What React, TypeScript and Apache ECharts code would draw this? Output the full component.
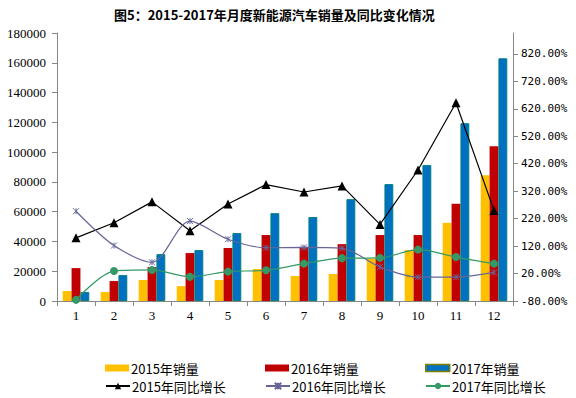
import React, { useEffect, useRef } from "react";
import * as echarts from "echarts";

const months = ["1", "2", "3", "4", "5", "6", "7", "8", "9", "10", "11", "12"];
const sales2015 = [6700, 6000, 14100, 10000, 14100, 21500, 16800, 18100, 28400, 34200, 52500, 84500];
const sales2016 = [22100, 13400, 22800, 32200, 35600, 44300, 36400, 38200, 44300, 44300, 65300, 104000];
const sales2017 = [6000, 17400, 31500, 34200, 45600, 59000, 56400, 68400, 78500, 91300, 119400, 163000];
const growth2015 = [150, 205, 281, 176, 273, 344, 317, 339, 199, 397, 642, 250];
const growth2016 = [247, 122, 61, 211, 145, 114, 115, 112, 44, 7, 7, 24];
const growth2017 = [-76, 29, 33, 8, 27, 32, 56, 76, 77, 107, 80, 56];

const names = ["2015年销量", "2016年销量", "2017年销量", "2015年同比增长", "2016年同比增长", "2017年同比增长"];

const CJK = '"Noto Sans CJK SC", "Noto Sans", sans-serif';

export default function App() {
  const ref = useRef<HTMLDivElement>(null);
  useEffect(() => {
    if (!ref.current) return;
    const chart = echarts.init(ref.current, undefined, { renderer: "svg" });
    const legendPos = [
      { left: 105, top: 361 },
      { left: 265, top: 361 },
      { left: 425, top: 361 },
      { left: 105, top: 379 },
      { left: 265, top: 379 },
      { left: 425, top: 379 },
    ];
    const legends = names.map((n, i) => {
      const item: any = { name: n };
      if (i < 3) item.icon = "rect";
      if (i === 2) item.itemStyle = { borderColor: "#808000", borderWidth: 1.5 };
      return {
        data: [item],
        left: legendPos[i].left,
        top: legendPos[i].top,
        itemWidth: 24,
        itemHeight: i < 3 ? 7 : 8,
        padding: 0,
        textStyle: { fontFamily: CJK, fontSize: 13, lineHeight: 14, color: "#000", padding: [0, 0, 0, -3] },
      };
    });
    const axisLine = { show: true, lineStyle: { color: "#868686", width: 1 } };
    chart.setOption({
      animation: false,
      title: {
        text: "图5：2015-2017年月度新能源汽车销量及同比变化情况",
        left: 109,
        top: 3,
        textStyle: { fontFamily: CJK, fontSize: 13, fontWeight: "bold", color: "#000" },
      },
      legend: legends,
      grid: { left: 57, right: 63, top: 33, bottom: 97, containLabel: false },
      xAxis: {
        type: "category",
        data: months,
        axisLine,
        axisTick: { show: true, length: 5, lineStyle: { color: "#868686" } },
        axisLabel: { fontFamily: '"Liberation Serif", serif', fontSize: 13, color: "#000", margin: 8 },
      },
      yAxis: [
        {
          type: "value",
          min: 0,
          max: 180000,
          interval: 20000,
          splitLine: { show: false },
          axisLine,
          axisTick: { show: true, length: 5, lineStyle: { color: "#868686" } },
          axisLabel: {
            fontFamily: '"Liberation Serif", serif',
            fontSize: 13,
            color: "#000",
            margin: 11,
            formatter: (v: number) => String(v),
          },
        },
        {
          type: "value",
          position: "right",
          min: -80,
          max: 896,
          interval: 100,
          splitLine: { show: false },
          axisLine,
          axisTick: { show: true, length: 5, lineStyle: { color: "#868686" } },
          axisLabel: {
            fontFamily: '"DejaVu Sans Mono", monospace',
            fontSize: 11,
            color: "#000",
            margin: 8,
            showMaxLabel: false,
            formatter: (v: number) => (v > 890 ? "" : v.toFixed(2) + "%"),
          },
        },
      ],
      series: [
        {
          name: names[0],
          type: "bar",
          data: sales2015,
          barGap: "0%",
          barCategoryGap: "30%",
          itemStyle: { color: "#FFC000" },
        },
        {
          name: names[1],
          type: "bar",
          data: sales2016,
          barGap: "0%",
          barCategoryGap: "30%",
          itemStyle: { color: "#C00000" },
        },
        {
          name: names[2],
          type: "bar",
          data: sales2017,
          barGap: "0%",
          barCategoryGap: "30%",
          itemStyle: { color: "#0070C0", borderColor: "#008080", borderWidth: 1 },
        },
        {
          name: names[3],
          type: "line",
          yAxisIndex: 1,
          data: growth2015,
          symbol: "triangle",
          symbolSize: 9,
          lineStyle: { color: "#000", width: 1.2 },
          itemStyle: { color: "#000" },
        },
        {
          name: names[4],
          type: "line",
          yAxisIndex: 1,
          data: growth2016,
          smooth: 0.3,
          symbol: "path://M0,0L10,10M10,0L0,10M5,0L5,10",
          symbolSize: 6,
          lineStyle: { color: "#666699", width: 1.2 },
          itemStyle: { color: "#666699", borderColor: "#666699", borderWidth: 1 },
        },
        {
          name: names[5],
          type: "line",
          yAxisIndex: 1,
          data: growth2017,
          smooth: 0.3,
          symbol: "circle",
          symbolSize: 8,
          lineStyle: { color: "#339966", width: 1.2 },
          itemStyle: { color: "#339966" },
        },
      ],
    });
    return () => chart.dispose();
  }, []);
  return <div ref={ref} style={{ width: 576, height: 398, position: "absolute", left: 0, top: 0 }} />;
}
